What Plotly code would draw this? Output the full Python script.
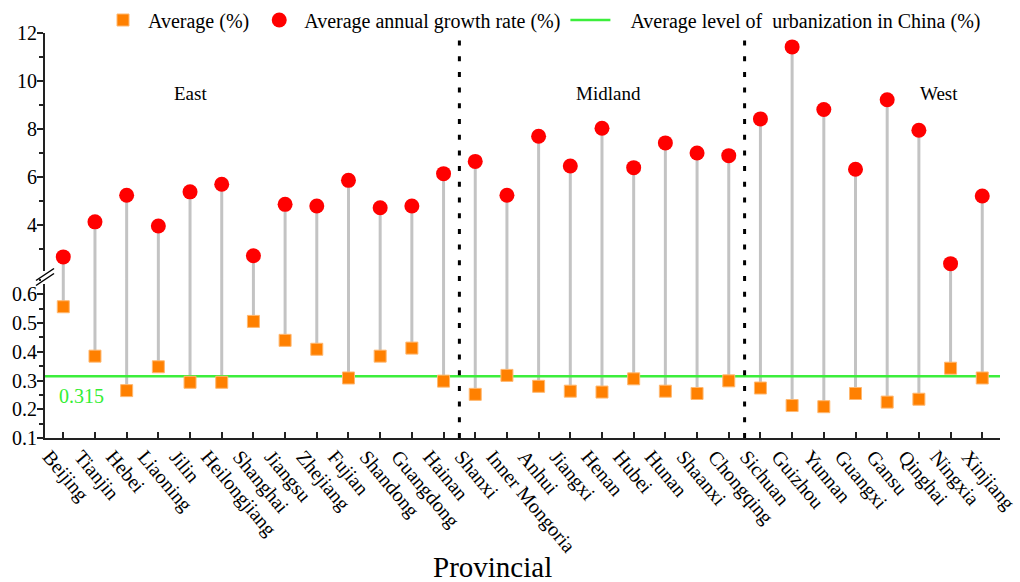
import plotly.graph_objects as go

# ---- data -------------------------------------------------------------
provinces = ["Beijing", "Tianjin", "Hebei", "Liaoning", "Jilin", "Heilongjiang",
             "Shanghai", "Jiangsu", "Zhejiang", "Fujian", "Shandong", "Guangdong",
             "Hainan", "Shanxi", "Inner Mongoria", "Anhui", "Jiangxi", "Henan",
             "Hubei", "Hunan", "Shaanxi", "Chongqing", "Sichuan", "Guizhou",
             "Yunnan", "Guangxi", "Gansu", "Qinghai", "Ningxia", "Xinjiang"]

average_pct = [0.557, 0.385, 0.265, 0.348, 0.294, 0.294, 0.506, 0.440, 0.409,
               0.309, 0.385, 0.413, 0.298, 0.252, 0.318, 0.280, 0.263, 0.260,
               0.306, 0.263, 0.255, 0.299, 0.274, 0.213, 0.209, 0.255, 0.225,
               0.235, 0.343, 0.309]

growth_rate = [2.67, 4.13, 5.24, 3.96, 5.38, 5.70, 2.72, 4.86, 4.79, 5.86,
               4.72, 4.79, 6.14, 6.65, 5.24, 7.70, 6.46, 8.03, 6.39, 7.42,
               7.00, 6.89, 8.42, 11.42, 8.81, 6.32, 9.22, 7.95, 2.39, 5.21]

china_level = 0.315

regions = ["East", "Midland", "West"]
region_sizes = [13, 9, 8]

lower_ticks = [0.1, 0.2, 0.3, 0.4, 0.5, 0.6]
upper_ticks = [4, 6, 8, 10, 12]

# ---- layout constants -------------------------------------------------
W, H = 1020, 582
ML, MR, MT, MB = 45, 20, 33, 144
PW, PH = W - ML - MR, H - MT - MB
SPLIT = 0.395                       # fraction of plot height given to the lower panel
LOW_RANGE = [0.1, 0.657]
UP_RANGE = [1.79, 12.0]
X_RANGE = [-0.577, 29.56]

FONT = "Liberation Serif, Times New Roman, serif"
idx = list(range(len(provinces)))


def px_x(px):
    return (px - ML) / PW


def px_y(py):
    return (MT + PH - py) / PH


fig = go.Figure()

# stems: lower half runs up to the break, upper half continues to the circle
sx_lo, sy_lo, sx_up, sy_up = [], [], [], []
for i, a, g in zip(idx, average_pct, growth_rate):
    sx_lo += [i, i, None]
    sy_lo += [a, LOW_RANGE[1], None]
    sx_up += [i, i, None]
    sy_up += [UP_RANGE[0], g, None]

stem_style = dict(color="#c3c3c3", width=3)
fig.add_trace(go.Scatter(x=sx_lo, y=sy_lo, mode="lines", line=stem_style,
                         showlegend=False, hoverinfo="skip", yaxis="y"))
fig.add_trace(go.Scatter(x=sx_up, y=sy_up, mode="lines", line=stem_style,
                         showlegend=False, hoverinfo="skip", yaxis="y2"))

# national urbanization level
fig.add_trace(go.Scatter(x=X_RANGE, y=[china_level, china_level], mode="lines",
                         line=dict(color="#3cee3c", width=2.5),
                         name="\u00a0\u00a0\u00a0Average level of\u00a0 urbanization in China (%)",
                         legendrank=3, yaxis="y", cliponaxis=False))

fig.add_trace(go.Scatter(x=idx, y=average_pct, mode="markers",
                         marker=dict(symbol="square", size=12, color="#ff8000",
                                     line=dict(color="#ffb870", width=1)),
                         name="Average (%)", legendrank=1, yaxis="y"))

fig.add_trace(go.Scatter(x=idx, y=growth_rate, mode="markers",
                         marker=dict(symbol="circle", size=15, color="#ff0000",
                                     line=dict(width=0)),
                         name="Average annual growth rate (%)", legendrank=2,
                         yaxis="y2", cliponaxis=False))

shapes = []
# dotted separators between the regions
bound = 0
for n in region_sizes[:-1]:
    bound += n
    shapes.append(dict(type="line", xref="x", yref="paper",
                       x0=bound - 0.5, x1=bound - 0.5, y0=0, y1=px_y(39),
                       line=dict(color="black", width=3, dash="5px,10.7px")))

# axis break marker
shapes.append(dict(type="rect", xref="paper", yref="paper",
                   x0=px_x(41), x1=px_x(49), y0=px_y(284), y1=px_y(271),
                   fillcolor="white", line=dict(width=0), layer="above"))
for off in (-2.5, 2.5):
    shapes.append(dict(type="line", xref="paper", yref="paper",
                       x0=px_x(36), y0=px_y(283 + off), x1=px_x(54), y1=px_y(271 + off),
                       line=dict(color="black", width=1.5), layer="above"))

annotations = []
region_centres = [4.03, 17.2, 27.65]
for name, xc in zip(regions, region_centres):
    annotations.append(dict(x=xc, y=px_y(93), xref="x", yref="paper", text=name,
                            xanchor="center", yanchor="middle", showarrow=False,
                            font=dict(family=FONT, size=19, color="black")))

annotations.append(dict(x=px_x(57), y=china_level, xref="paper", yref="y",
                        text=f"{china_level}", xanchor="left", yanchor="top", yshift=-7,
                        showarrow=False, font=dict(family=FONT, size=20, color="#33ee33")))

annotations.append(dict(x=px_x(492), y=px_y(567), xref="paper", yref="paper",
                        text="Provincial", xanchor="center", yanchor="middle",
                        showarrow=False, font=dict(family=FONT, size=29, color="black")))

axis_common = dict(showline=True, linecolor="#222", linewidth=2, showgrid=False,
                   zeroline=False, ticks="outside", ticklen=6, tickwidth=2,
                   tickcolor="#222", ticklabelstandoff=-4,
                   tickfont=dict(family=FONT, size=20, color="black"))

fig.update_layout(
    width=W, height=H,
    margin=dict(l=ML, r=MR, t=MT, b=MB, autoexpand=False),
    plot_bgcolor="white", paper_bgcolor="white",
    font=dict(family=FONT, color="black"),
    shapes=shapes, annotations=annotations,
    legend=dict(orientation="h", x=px_x(98), y=px_y(20), xanchor="left",
                yanchor="middle", font=dict(family=FONT, size=20, color="black"),
                bgcolor="rgba(0,0,0,0)", itemwidth=40),
    xaxis=dict(range=X_RANGE, tickvals=idx, ticktext=provinces, tickangle=50,
               showline=True, linecolor="#222", linewidth=2, showgrid=False,
               zeroline=False, ticks="inside", ticklen=6, tickwidth=2, tickcolor="#222",
               tickfont=dict(family=FONT, size=20, color="black"), anchor="y",
               ticklabelshift=-14, ticklabelstandoff=-3,
               ticklabeloverflow="allow", automargin=False),
    yaxis=dict(domain=[0, SPLIT], range=LOW_RANGE, tickvals=lower_ticks,
               ticktext=[f"{v:.1f}" for v in lower_ticks],
               minor=dict(tickvals=[0.15, 0.25, 0.35, 0.45, 0.55, 0.65],
                          ticks="outside", ticklen=4, tickwidth=2, tickcolor="#222"),
               anchor="x", automargin=False, **axis_common),
    yaxis2=dict(domain=[SPLIT, 1], range=UP_RANGE, tickvals=upper_ticks,
                minor=dict(tickvals=[3, 5, 7, 9, 11], ticks="outside", ticklen=4,
                           tickwidth=2, tickcolor="#222"),
                anchor="x", automargin=False, **axis_common),
)

fig.write_html("out.html")
